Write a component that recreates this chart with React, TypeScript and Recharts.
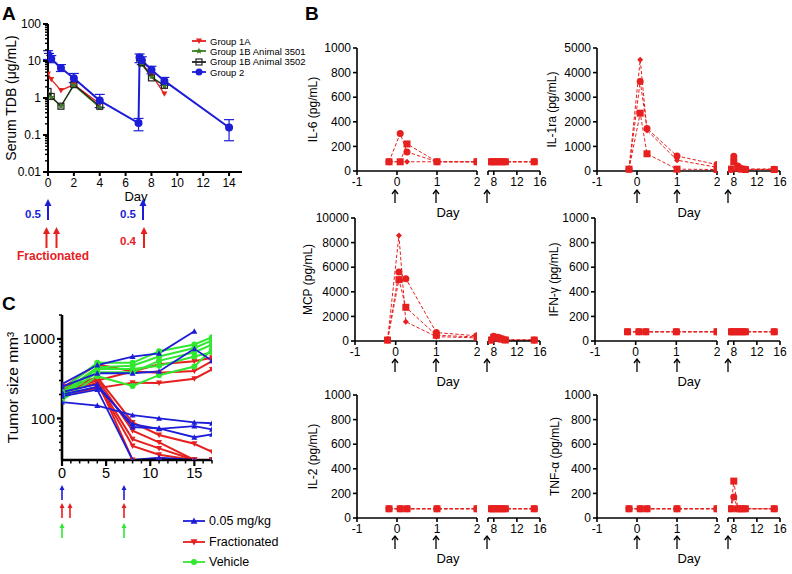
import React from 'react';
import { LineChart, Line, XAxis, YAxis, ErrorBar, Legend } from 'recharts';

const FONT = '"Liberation Sans", Arial, Helvetica, sans-serif';
const RED = '#e6201f';
const BLUE = '#1d1dd8';
const GREEN = '#30e830';
const DKGREEN = '#3a7f22';

// ---- A: serum TDB (µg/mL) ----
const tdbXTicks = [0, 2, 4, 6, 8, 10, 12, 14];
const tdbYTicks = [
  0.01, 0.02, 0.03, 0.04, 0.05, 0.06, 0.07, 0.08, 0.09,
  0.1, 0.2, 0.3, 0.4, 0.5, 0.6, 0.7, 0.8, 0.9,
  1, 2, 3, 4, 5, 6, 7, 8, 9,
  10, 20, 30, 40, 50, 60, 70, 80, 90, 100,
];
const tdbYMajor = [0.01, 0.1, 1, 10, 100];
const tdbDaysG2 = [0, 0.08, 0.25, 1, 2, 4, 7, 7.08, 7.25, 8, 9, 14];
const tdbG2 = [15, 13, 11.5, 6.5, 3.4, 0.85, 0.21, 12.5, 10.5, 5.8, 2.9, 0.16];
const tdbG2Lo = [4, 3, 2.5, 1.3, 0.8, 0.3, 0.08, 3.5, 2.5, 1.3, 0.7, 0.09];
const tdbG2Hi = [4, 3, 2.5, 1.5, 1.2, 0.4, 0.07, 3, 2.5, 1.4, 0.7, 0.1];
const tdbDaysG1 = [0, 0.25, 1, 2, 4, 7, 7.08, 7.25, 8, 9];
const tdbG1A = [4.5, 3.2, 1.6, 2.3, 0.7, null, 11, 8.5, 4.3, 1.3];
const tdbG1B3501 = [1.3, 1.05, 0.6, 2.2, 0.55, null, 11, 8, 3.8, 2.1];
const tdbG1B3502 = [1.5, 1.1, 0.6, 2.3, 0.6, null, 12, 9, 3.5, 2.2];

// ---- C: tumor size (mm3) ----
const tumorXTicks = [0, 1, 2, 3, 4, 5, 6, 7, 8, 9, 10, 11, 12, 13, 14, 15, 16, 17];
const tumorXMajor = [0, 5, 10, 15];
const tumorYTicks = [40, 50, 60, 70, 80, 90, 100, 200, 300, 400, 500, 600, 700, 800, 900, 1000, 2000];
const tumorYMajor = [100, 1000];
const tumorDays = [0, 4, 8, 11, 15, 17];
const tumorLowDose = [
  [270, 470, 600, 660, 1250, null],
  [250, 370, 370, 390, 750, 530],
  [160, 145, 110, 100, 89, 87],
  [200, 250, 85, 74, 80, 73],
  [215, 270, 78, 75, 58, 63],
  [190, 230, 30, 32, 30, 30],
];
const tumorFrac = [
  [240, 480, 390, 480, 525, 580],
  [220, 300, 390, 375, 395, 525],
  [200, 240, 282, 280, 316, 415],
  [230, 330, 89, 62, 48, 38],
  [250, 310, 70, 50, 30, 30],
  [210, 280, 55, 42, 30, 30],
  [260, 300, 30, 30, 30, 30],
  [220, 270, 45, 35, 30, 30],
];
const tumorVehicle = [
  [230, 500, 500, 700, 850, 1050],
  [210, 440, 460, 600, 770, 960],
  [190, 380, 380, 530, 680, 850],
  [170, 340, 256, 350, 450, 740],
  [200, 420, 420, 460, 600, 680],
];

// ---- B: cytokines (pg/mL), animals drawn as square, circle, diamond ----
const cytoDaysEarly = [-0.2, 0.08, 0.25, 1, 2];
const cytoDaysLate = [7.5, 8, 8.7, 9.3, 10, 15];
const cytoXEarly = [-1, 0, 1, 2];
const cytoXLate = [7, 8, 12, 16];
const ticks1000 = [0, 200, 400, 600, 800, 1000];
const ticks5000 = [0, 1000, 2000, 3000, 4000, 5000];
const ticks10000 = [0, 2000, 4000, 6000, 8000, 10000];
const flatEarly = [75, 75, 75, 75, 75];
const flatLate = [75, 75, 75, 75, 75, 75];

const il6Early = [[75, 75, 220, 75, 75], [75, 305, 155, 75, 75], [75, 75, 75, 75, 75]];
const il6Late = [flatLate, flatLate, flatLate];
const il1raEarly = [[75, 2350, 700, 75, 60], [75, 3640, 1730, 610, 260], [75, 4520, 1650, 440, 150]];
const il1raLate = [[75, 380, 120, 75, 60, 60], [75, 600, 200, 100, 75, 75], [75, 480, 150, 90, 75, 75]];
const mcpEarly = [[75, 4990, 2740, 465, 330], [75, 5610, 5070, 685, 420], [75, 8570, 1560, 355, 250]];
const mcpLate = [[75, 300, 250, 150, 80, 75], [75, 380, 300, 200, 100, 75], [75, 200, 150, 100, 75, 75]];
const ifngEarly = [flatEarly, flatEarly, flatEarly];
const ifngLate = [flatLate, flatLate, flatLate];
const il2Early = [flatEarly, flatEarly, flatEarly];
const il2Late = [flatLate, flatLate, flatLate];
const tnfEarly = [flatEarly, flatEarly, flatEarly];
const tnfLate = [[75, 300, 75, 75, 75, 75], [75, 170, 75, 75, 75, 75], flatLate];

const animalShapes = ['square', 'circle', 'diamond'];
const animalSizes = [7, 7, 6];

const pts = (days: number[], vals: (number | null)[]) => days.map((d, i) => ({ day: d, v: vals[i] }));

function Marker({ cx, cy, shape, color, size }: any) {
  if (cx == null || cy == null || Number.isNaN(cx) || Number.isNaN(cy)) return <g />;
  const h = size / 2;
  if (shape === 'square') return <rect x={cx - h} y={cy - h} width={size} height={size} fill={color} />;
  if (shape === 'open')
    return <rect x={cx - h} y={cy - h} width={size} height={size} fill="none" stroke={color} strokeWidth={1.2} />;
  if (shape === 'circle') return <circle cx={cx} cy={cy} r={h} fill={color} />;
  if (shape === 'diamond')
    return <polygon points={`${cx},${cy - h} ${cx + h},${cy} ${cx},${cy + h} ${cx - h},${cy}`} fill={color} />;
  if (shape === 'up')
    return <polygon points={`${cx},${cy - h} ${cx + h},${cy + h * 0.8} ${cx - h},${cy + h * 0.8}`} fill={color} />;
  if (shape === 'down')
    return <polygon points={`${cx},${cy + h} ${cx + h},${cy - h * 0.8} ${cx - h},${cy - h * 0.8}`} fill={color} />;
  const p: string[] = [];
  for (let k = 0; k < 10; k++) {
    const r = k % 2 ? h * 0.45 : h;
    const a = -Math.PI / 2 + (k * Math.PI) / 5;
    p.push(`${cx + r * Math.cos(a)},${cy + r * Math.sin(a)}`);
  }
  return <polygon points={p.join(' ')} fill={color} />;
}

const dotOf = (shape: string, color: string, size: number) => (p: any) => (
  <Marker key={`m${p.index}`} cx={p.cx} cy={p.cy} shape={shape} color={color} size={size} />
);

const axisLine = (w: number) => ({ stroke: '#000', strokeWidth: w });
const tickStyle = (fs: number) => ({ fill: '#000', fontSize: fs, fontFamily: FONT });
const labelStyle = (fs: number) => ({ textAnchor: 'middle', fill: '#000', fontSize: fs, fontFamily: FONT });

const legendA = [
  { name: 'Group 1A', color: RED, shape: 'down', size: 6 },
  { name: 'Group 1B Animal 3501', color: DKGREEN, shape: 'star', size: 7 },
  { name: 'Group 1B Animal 3502', color: '#222', shape: 'open', size: 6 },
  { name: 'Group 2', color: BLUE, shape: 'circle', size: 7 },
];
const legendC = [
  { name: '0.05 mg/kg', color: BLUE, shape: 'up', size: 7 },
  { name: 'Fractionated', color: RED, shape: 'down', size: 7 },
  { name: 'Vehicle', color: GREEN, shape: 'circle', size: 6 },
];

function LegendRows({ items, rowH, fs, iconW }: any) {
  return (
    <div style={{ fontFamily: FONT, fontSize: fs, color: '#000' }}>
      {items.map((it: any) => (
        <div key={it.name} style={{ display: 'flex', alignItems: 'center', height: rowH, whiteSpace: 'nowrap' }}>
          <svg width={iconW} height={10} style={{ marginRight: 4 }}>
            <line x1={0} x2={iconW} y1={5} y2={5} stroke={it.color} strokeWidth={1.8} />
            <Marker cx={iconW / 2} cy={5} shape={it.shape} color={it.color} size={it.size} />
          </svg>
          <span>{it.name}</span>
        </div>
      ))}
    </div>
  );
}

function LogYTick({ x, y, payload, major, fs, w }: any) {
  const isMajor = major.includes(payload.value);
  return (
    <g>
      <line x1={x - (isMajor ? 5 : 3)} x2={x} y1={y} y2={y} stroke="#000" strokeWidth={isMajor ? w : w * 0.7} />
      {isMajor && (
        <text x={x - 7} y={y} dy="0.36em" textAnchor="end" fontSize={fs} fontFamily={FONT} fill="#000">
          {payload.value}
        </text>
      )}
    </g>
  );
}

function TumorXTick({ x, y, payload }: any) {
  const major = tumorXMajor.includes(payload.value);
  return (
    <g>
      <line x1={x} x2={x} y1={y} y2={y + (major ? 6 : 3.5)} stroke="#000" strokeWidth={major ? 2.2 : 1.5} />
      {major && (
        <text x={x} y={y + 18} textAnchor="middle" fontSize={14.5} fontFamily={FONT} fill="#000">
          {payload.value}
        </text>
      )}
    </g>
  );
}

function PanelA() {
  const g2 = tdbDaysG2.map((d, i) => ({ day: d, v: tdbG2[i], err: [tdbG2Lo[i], tdbG2Hi[i]] }));
  return (
    <div style={{ position: 'absolute', left: 0, top: 0 }}>
      <LineChart width={300} height={205} margin={{ top: 24, right: 58, bottom: 0, left: 0 }}>
        <XAxis
          type="number"
          dataKey="day"
          domain={[0, 15]}
          ticks={tdbXTicks}
          interval={0}
          height={33}
          allowDataOverflow
          axisLine={axisLine(2)}
          tickLine={axisLine(2)}
          tickSize={4}
          tick={tickStyle(12)}
          label={{ value: 'Day', position: 'insideBottom', offset: 4, dx: -9, style: labelStyle(13) }}
        />
        <YAxis
          type="number"
          scale="log"
          domain={[0.01, 100]}
          ticks={tdbYTicks}
          interval={0}
          width={48}
          allowDataOverflow
          axisLine={axisLine(2)}
          tickLine={false}
          tickSize={0}
          tickMargin={0}
          tick={(p: any) => <LogYTick {...p} major={tdbYMajor} fs={12} w={2} />}
          label={{ value: 'Serum TDB (μg/mL)', angle: -90, position: 'insideLeft', offset: 11, style: labelStyle(14) }}
        />
        <Legend
          layout="vertical"
          align="center"
          verticalAlign="middle"
          wrapperStyle={{ left: 192, top: 36, width: 'auto' }}
          content={() => <LegendRows items={legendA} rowH={10.3} fs={9.5} iconW={14} />}
        />
        <Line data={pts(tdbDaysG1, tdbG1A)} dataKey="v" stroke={RED} strokeWidth={1.3} dot={dotOf('down', RED, 6)} activeDot={false} isAnimationActive={false} />
        <Line data={pts(tdbDaysG1, tdbG1B3501)} dataKey="v" stroke={DKGREEN} strokeWidth={1.3} dot={dotOf('star', DKGREEN, 7)} activeDot={false} isAnimationActive={false} />
        <Line data={pts(tdbDaysG1, tdbG1B3502)} dataKey="v" stroke="#222" strokeWidth={1.1} dot={dotOf('open', '#222', 6)} activeDot={false} isAnimationActive={false} />
        <Line data={g2} dataKey="v" stroke={BLUE} strokeWidth={2} dot={dotOf('circle', BLUE, 8)} activeDot={false} isAnimationActive={false}>
          <ErrorBar dataKey="err" width={5} stroke={BLUE} strokeWidth={1.2} direction="y" />
        </Line>
      </LineChart>
    </div>
  );
}

function PanelC() {
  const groups = [
    { rows: tumorFrac, color: RED, shape: 'down', w: 2 },
    { rows: tumorVehicle, color: GREEN, shape: 'circle', w: 2 },
    { rows: tumorLowDose, color: BLUE, shape: 'up', w: 1.8 },
  ];
  return (
    <div style={{ position: 'absolute', left: 0, top: 280 }}>
      <LineChart width={300} height={295} margin={{ top: 35, right: 88, bottom: 95, left: 0 }}>
        <XAxis
          type="number"
          dataKey="day"
          domain={[0, 17]}
          ticks={tumorXTicks}
          interval={0}
          height={20}
          allowDataOverflow
          tickSize={0}
          tickMargin={0}
          tickLine={false}
          axisLine={axisLine(2.6)}
          tick={(p: any) => <TumorXTick {...p} />}
        />
        <YAxis
          type="number"
          scale="log"
          domain={[30, 2000]}
          ticks={tumorYTicks}
          interval={0}
          width={62}
          allowDataOverflow
          tickSize={0}
          tickMargin={0}
          tickLine={false}
          axisLine={axisLine(2.6)}
          tick={(p: any) => <LogYTick {...p} major={tumorYMajor} fs={14.5} w={2.2} />}
          label={{ value: 'Tumor size mm³', angle: -90, position: 'insideLeft', offset: 12, style: labelStyle(15.5) }}
        />
        <Legend
          layout="vertical"
          align="center"
          verticalAlign="middle"
          wrapperStyle={{ left: 183, top: 231, width: 'auto' }}
          content={() => <LegendRows items={legendC} rowH={20.6} fs={12.5} iconW={22} />}
        />
        {groups.flatMap((g, gi) =>
          g.rows.map((vals, i) => (
            <Line
              key={`${gi}-${i}`}
              data={pts(tumorDays, vals)}
              dataKey="v"
              stroke={g.color}
              strokeWidth={g.w}
              dot={dotOf(g.shape, g.color, 6)}
              activeDot={false}
              isAnimationActive={false}
            />
          ))
        )}
      </LineChart>
    </div>
  );
}

function CytoPanel({ x0, axisX, plotTop, labelX, label, yMax, yTicks, early, late }: any) {
  const h = 123;
  const lines = (days: number[], rows: (number | null)[][]) =>
    rows.map((vals, i) => (
      <Line
        key={i}
        data={pts(days, vals)}
        dataKey="v"
        stroke={RED}
        strokeWidth={1}
        strokeDasharray="3.5 2"
        dot={dotOf(animalShapes[i], RED, animalSizes[i])}
        activeDot={false}
        isAnimationActive={false}
      />
    ));
  const xCommon = {
    type: 'number' as const,
    dataKey: 'day',
    interval: 0,
    height: 22,
    allowDataOverflow: true,
    axisLine: axisLine(1.6),
    tickLine: axisLine(1.6),
    tickSize: 4,
    tick: tickStyle(12),
  };
  return (
    <>
      <div style={{ position: 'absolute', left: x0, top: plotTop - 10 }}>
        <LineChart width={180} height={h + 32} margin={{ top: 10, right: 3, bottom: 0, left: 0 }}>
          <XAxis {...xCommon} domain={[-1, 2]} ticks={cytoXEarly} />
          <YAxis
            type="number"
            domain={[0, yMax]}
            ticks={yTicks}
            interval={0}
            width={axisX - x0}
            axisLine={axisLine(1.6)}
            tickLine={axisLine(1.6)}
            tickSize={4}
            tick={tickStyle(12)}
            label={{ value: label, angle: -90, position: 'insideLeft', offset: labelX - x0, style: labelStyle(12) }}
          />
          {lines(cytoDaysEarly, early)}
        </LineChart>
      </div>
      <div style={{ position: 'absolute', left: x0 + 185, top: plotTop - 10 }}>
        <LineChart width={72} height={h + 32} margin={{ top: 10, right: 17, bottom: 0, left: 3 }}>
          <XAxis {...xCommon} domain={[7, 16]} ticks={cytoXLate} tickFormatter={(v: number) => (v === 7 ? '' : String(v))} />
          <YAxis type="number" domain={[0, yMax]} hide />
          {lines(cytoDaysLate, late)}
        </LineChart>
      </div>
    </>
  );
}

function DoseArrow({ x, y1, y2, color, w = 2, head = 7, hl = 7 }: any) {
  return (
    <g>
      <line x1={x} x2={x} y1={y1 + hl - 1} y2={y2} stroke={color} strokeWidth={w} />
      <polygon points={`${x},${y1} ${x - head / 2},${y1 + hl} ${x + head / 2},${y1 + hl}`} fill={color} />
    </g>
  );
}

function ThinArrow({ x, y1, y2 }: any) {
  return (
    <g stroke="#000" strokeWidth={1.3} fill="none">
      <line x1={x} x2={x} y1={y1} y2={y2} />
      <polyline points={`${x - 3},${y1 + 4} ${x},${y1} ${x + 3},${y1 + 4}`} />
    </g>
  );
}

const bRows = [171, 340, 517];
const bArrowX = [[395, 436, 487], [637, 677, 728]];
const bDayX = [448, 689];

function Overlay() {
  return (
    <svg width={792} height={574} style={{ position: 'absolute', left: 0, top: 0, pointerEvents: 'none' }} fontFamily={FONT}>
      <text x={2} y={20} fontSize={19} fontWeight="bold">A</text>
      <text x={305} y={20} fontSize={19} fontWeight="bold">B</text>
      <text x={2} y={310} fontSize={19} fontWeight="bold">C</text>

      <DoseArrow x={48} y1={199} y2={220} color={BLUE} />
      <DoseArrow x={143} y1={199} y2={220} color={BLUE} />
      <text x={41} y={218} fontSize={11.5} fontWeight="bold" fill={BLUE} textAnchor="end">0.5</text>
      <text x={136} y={218} fontSize={11.5} fontWeight="bold" fill={BLUE} textAnchor="end">0.5</text>
      <DoseArrow x={46.5} y1={227} y2={248} color={RED} />
      <DoseArrow x={56.5} y1={227} y2={248} color={RED} />
      <DoseArrow x={144} y1={227} y2={248} color={RED} />
      <text x={136} y={245} fontSize={11.5} fontWeight="bold" fill={RED} textAnchor="end">0.4</text>
      <text x={53} y={260} fontSize={12} fontWeight="bold" fill={RED} textAnchor="middle">Fractionated</text>

      <DoseArrow x={62} y1={485} y2={500} color={BLUE} w={1.6} head={5} hl={5} />
      <DoseArrow x={124} y1={485} y2={500} color={BLUE} w={1.6} head={5} hl={5} />
      <DoseArrow x={62} y1={503} y2={518} color={RED} w={1.6} head={5} hl={5} />
      <DoseArrow x={70} y1={503} y2={518} color={RED} w={1.6} head={5} hl={5} />
      <DoseArrow x={124} y1={503} y2={518} color={RED} w={1.6} head={5} hl={5} />
      <DoseArrow x={62} y1={523} y2={538} color={GREEN} w={1.6} head={5} hl={5} />
      <DoseArrow x={124} y1={523} y2={538} color={GREEN} w={1.6} head={5} hl={5} />

      {bRows.map((yb) =>
        bArrowX.map((xs, c) => (
          <g key={`${yb}-${c}`}>
            {xs.map((x) => (
              <ThinArrow key={x} x={x} y1={yb + 19} y2={yb + 32} />
            ))}
            <text x={bDayX[c]} y={yb + 46} fontSize={13} textAnchor="middle">Day</text>
          </g>
        ))
      )}
    </svg>
  );
}

export default function App() {
  return (
    <div style={{ position: 'absolute', left: 0, top: 0, width: 792, height: 574, background: '#fff', overflow: 'hidden' }}>
      <PanelA />
      <PanelC />
      <CytoPanel x0={300} axisX={357} plotTop={48} labelX={313} label="IL-6 (pg/mL)" yMax={1000} yTicks={ticks1000} early={il6Early} late={il6Late} />
      <CytoPanel x0={540} axisX={597} plotTop={48} labelX={552} label="IL-1ra (pg/mL)" yMax={5000} yTicks={ticks5000} early={il1raEarly} late={il1raLate} />
      <CytoPanel x0={300} axisX={355} plotTop={218} labelX={308} label="MCP (pg/mL)" yMax={10000} yTicks={ticks10000} early={mcpEarly} late={mcpLate} />
      <CytoPanel x0={540} axisX={595} plotTop={218} labelX={554} label="IFN-γ (pg/mL)" yMax={1000} yTicks={ticks1000} early={ifngEarly} late={ifngLate} />
      <CytoPanel x0={300} axisX={357} plotTop={395} labelX={313} label="IL-2 (pg/mL)" yMax={1000} yTicks={ticks1000} early={il2Early} late={il2Late} />
      <CytoPanel x0={540} axisX={597} plotTop={395} labelX={555} label="TNF-α (pg/mL)" yMax={1000} yTicks={ticks1000} early={tnfEarly} late={tnfLate} />
      <Overlay />
    </div>
  );
}
